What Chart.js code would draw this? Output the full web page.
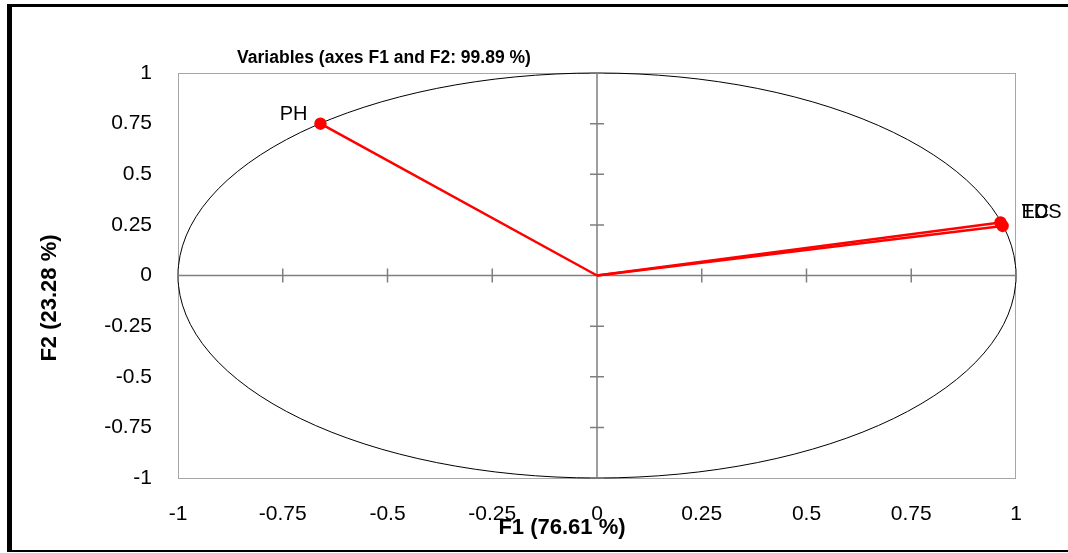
<!DOCTYPE html>
<html>
<head>
<meta charset="utf-8">
<script src="https://cdn.jsdelivr.net/npm/chart.js@4.4.0/dist/chart.umd.min.js"></script>
<style>
  body { margin: 0; background: #fff; }
  canvas { display: block; }
</style>
</head>
<body>
<canvas id="circleChart" width="1068" height="553"></canvas>
<script>
// variables on the correlation circle
const variables = ['PH', 'EC', 'TDS'];
const f1Values = [-0.66, 0.963, 0.968];
const f2Values = [0.75, 0.262, 0.245];
const tickStep = 0.25;
const chartTitle = 'Variables (axes F1 and F2: 99.89 %)';
const xTitle = 'F1 (76.61 %)';
const yTitle = 'F2 (23.28 %)';

const FONT = '"Liberation Sans", Arial, sans-serif';

const datasets = variables.map((name, i) => ({
    label: name,
    data: [{ x: 0, y: 0 }, { x: f1Values[i], y: f2Values[i] }],
    showLine: true,
    borderColor: '#ff0000',
    borderWidth: 2.5,
    pointRadius: [0, 5],
    pointBackgroundColor: '#ff0000',
    pointBorderColor: '#ff0000'
}));

// 0.25 -> "0.25", 1 -> "1"
const fmtTick = v => String(Number(v.toFixed(2)));

const circlePlugin = {
    id: 'circlePlugin',
    beforeDraw(chart) {
        const c = chart.ctx;
        c.save();
        c.fillStyle = '#fff';
        c.fillRect(0, 0, chart.width, chart.height);
        // outer frame
        c.fillStyle = '#000';
        c.fillRect(7, 4, 5, 548);
        c.fillRect(7, 4, 1061, 3);
        c.fillRect(7, 550, 1061, 2);
        c.restore();
    },
    beforeDatasetsDraw(chart) {
        const c = chart.ctx;
        const a = chart.chartArea;
        const xs = chart.scales.x, ys = chart.scales.y;
        const cx = xs.getPixelForValue(0), cy = ys.getPixelForValue(0);
        c.save();
        // plot box
        c.strokeStyle = '#a6a6a6';
        c.lineWidth = 1;
        c.strokeRect(a.left + 0.5, a.top + 0.5, a.right - a.left - 1, a.bottom - a.top);
        // unit circle
        c.strokeStyle = '#000';
        c.lineWidth = 1;
        c.beginPath();
        c.ellipse(cx, cy, xs.getPixelForValue(1) - cx, cy - ys.getPixelForValue(1), 0, 0, Math.PI * 2);
        c.stroke();
        // axes through origin
        c.strokeStyle = '#7f7f7f';
        c.lineWidth = 1.5;
        c.beginPath();
        c.moveTo(a.left, cy); c.lineTo(a.right, cy);
        c.moveTo(cx, a.top); c.lineTo(cx, a.bottom);
        xs.ticks.forEach(t => {
            const px = xs.getPixelForValue(t.value);
            c.moveTo(px, cy - 7); c.lineTo(px, cy + 7);
        });
        ys.ticks.forEach(t => {
            const py = ys.getPixelForValue(t.value);
            c.moveTo(cx - 7, py); c.lineTo(cx + 7, py);
        });
        c.stroke();
        c.restore();
    },
    afterDatasetsDraw(chart) {
        const c = chart.ctx;
        const xs = chart.scales.x, ys = chart.scales.y;
        c.save();
        c.fillStyle = '#000';
        c.font = '20px ' + FONT;
        c.textBaseline = 'middle';
        variables.forEach((name, i) => {
            const px = xs.getPixelForValue(f1Values[i]);
            const py = ys.getPixelForValue(f2Values[i]);
            if (f1Values[i] < 0) {
                c.textAlign = 'right';
                c.fillText(name, px - 13, py - 9);
            } else {
                c.textAlign = 'left';
                c.fillText(name, xs.getPixelForValue(f1Values[1]) + 21, ys.getPixelForValue(f2Values[1]) - 10);
            }
        });
        // titles
        c.textAlign = 'center';
        c.font = 'bold 17.5px ' + FONT;
        c.fillText(chartTitle, 384, 58);
        c.font = 'bold 22px ' + FONT;
        c.fillText(xTitle, 562, 528);
        c.translate(50, 298);
        c.rotate(-Math.PI / 2);
        c.fillText(yTitle, 0, 0);
        c.restore();
    }
};

new Chart(document.getElementById('circleChart'), {
    type: 'scatter',
    data: { datasets: datasets },
    plugins: [circlePlugin],
    options: {
        responsive: false,
        animation: false,
        layout: { padding: { left: 0, top: 73, right: 52, bottom: 0 } },
        plugins: { legend: { display: false }, tooltip: { enabled: false } },
        scales: {
            x: {
                min: -1, max: 1,
                afterFit: s => { s.height = 75; },
                grid: { display: false, drawTicks: false },
                border: { display: false },
                ticks: { stepSize: tickStep, autoSkip: false, maxRotation: 0, padding: 24, color: '#000',
                         font: { family: FONT, size: 21 }, callback: fmtTick }
            },
            y: {
                min: -1, max: 1,
                afterFit: s => { s.width = 178; },
                grid: { display: false, drawTicks: false },
                border: { display: false },
                ticks: { stepSize: tickStep, autoSkip: false, padding: 26, color: '#000',
                         font: { family: FONT, size: 21 }, callback: fmtTick }
            }
        }
    }
});
</script>
</body>
</html>
